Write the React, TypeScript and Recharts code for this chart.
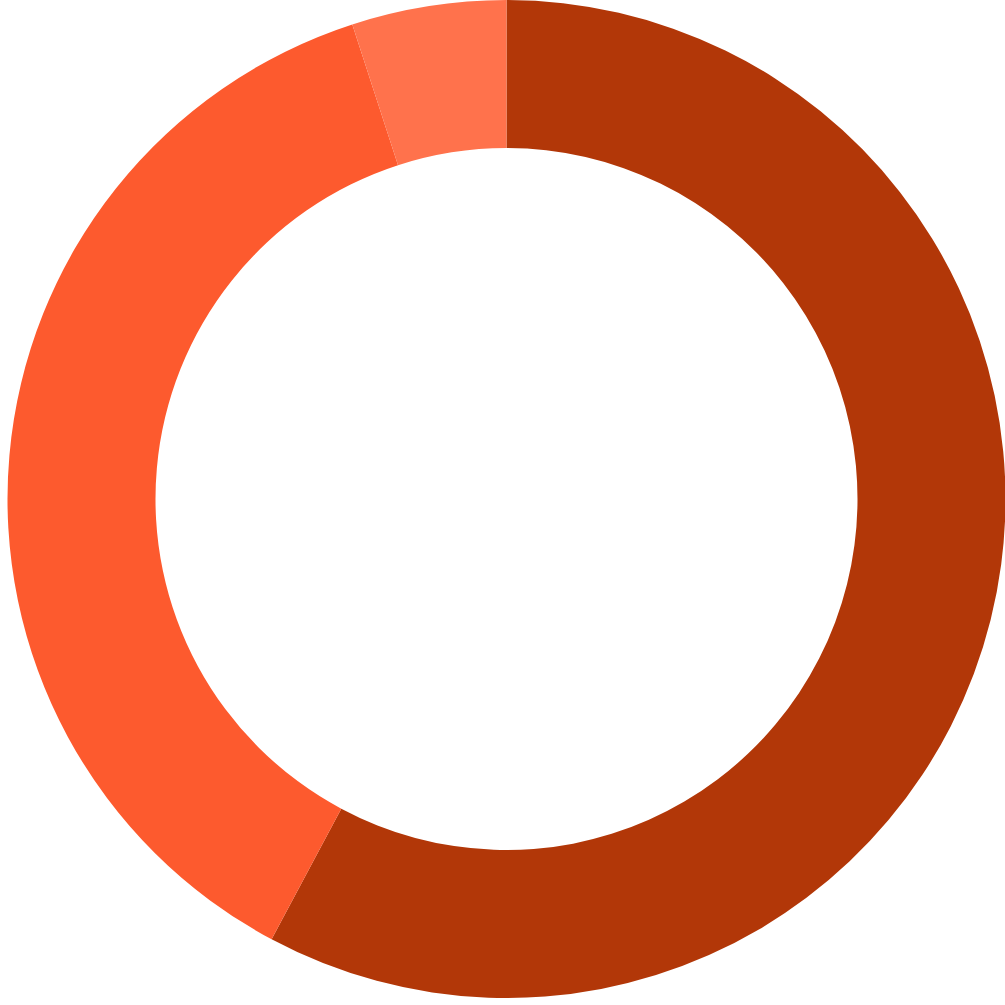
import { PieChart, Pie, Cell } from "recharts";

const segmentNames = ["Segment A", "Segment B", "Segment C"];
const segmentValues = [57.8, 37.2, 5.0];
const segmentColors = ["#B23708", "#FD5A2E", "#FF724C"];

const data = segmentNames.map((name, i) => ({ name, value: segmentValues[i] }));

export default function App() {
  return (
    <div style={{ position: "absolute", top: 0, left: 0, width: 1005, height: 1005 }}>
      <PieChart width={1005} height={1005} margin={{ top: 0, right: 0, bottom: 0, left: 0 }}>
        <Pie
          data={data}
          dataKey="value"
          nameKey="name"
          cx={506.5}
          cy={499}
          innerRadius={351}
          outerRadius={499}
          startAngle={90}
          endAngle={-270}
          stroke="none"
          isAnimationActive={false}
        >
          {data.map((d, i) => (
            <Cell key={d.name} fill={segmentColors[i]} />
          ))}
        </Pie>
      </PieChart>
    </div>
  );
}
